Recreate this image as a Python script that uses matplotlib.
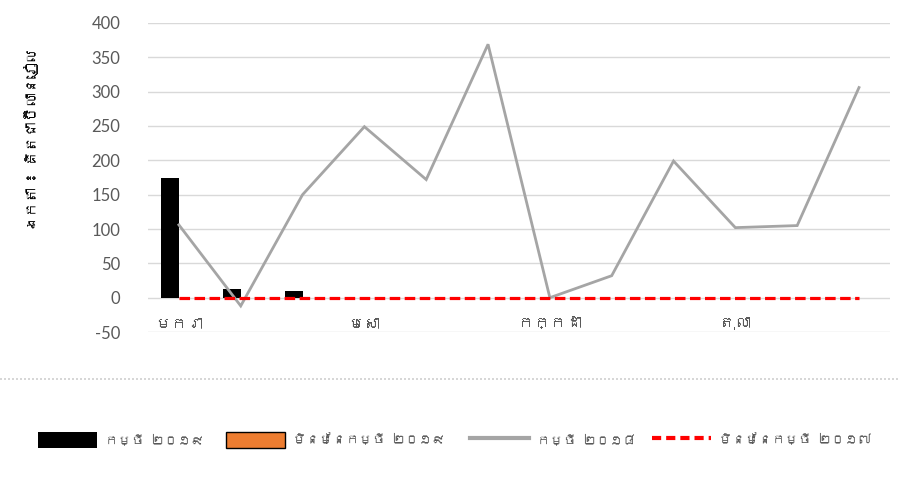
import matplotlib
matplotlib.use("Agg")
import matplotlib.pyplot as plt
from matplotlib import font_manager
from matplotlib.ft2font import FT2Font
from matplotlib.lines import Line2D
import numpy as np

# ---------------- data ----------------
months = ["មករា", "កុម្ភៈ", "មីនា", "មេសា", "ឧសភា", "មិថុនា",
          "កក្កដា", "សីហា", "កញ្ញា", "តុលា", "វិច្ឆិកា", "ធ្នូ"]
loan_2019 = [175, 13, 9, 0, 0, 0, 0, 0, 0, 0, 0, 0]
nonloan_2019 = [0, 0, 0, 0, 0, 0, 0, 0, 0, 0, 0, 0]
loan_2018 = [106, -12, 150, 249, 172, 369, 0, 32, 199, 102, 105, 306]
nonloan_2017 = [0, 0, 0, 0, 0, 0, 0, 0, 0, 0, 0, 0]
series_labels = ["កម្ចី ២០១៩", "មិនមែនកម្ចី ២០១៩", "កម្ចី ២០១៨", "មិនមែនកម្ចី ២០១៧"]
y_label = "ឯកតា ៖ គិតជាប៊ីលានរៀល"
y_ticks = [-50, 0, 50, 100, 150, 200, 250, 300, 350, 400]

# ---------------- font with Khmer glyphs if any ----------------
khmer_family = None
for fe in font_manager.fontManager.ttflist:
    try:
        cm = FT2Font(fe.fname).get_charmap()
        if 0x1780 in cm and 0x17D2 in cm:
            khmer_family = fe.name
            break
    except Exception:
        pass
fams = ([khmer_family] if khmer_family else []) + ["DejaVu Sans"]
num_fams = ["Lato", "DejaVu Sans"]
plt.rcParams["font.family"] = fams

fig = plt.figure(figsize=(8.98, 4.83), dpi=100)
ax = fig.add_axes([0.1648, 0.3126, 0.8262, 0.6398])

x = np.arange(len(months))
bw = 0.29
ax.bar(x - bw / 2, loan_2019, width=bw, color="black", zorder=3,
       label=series_labels[0])
ax.bar(x + bw / 2, nonloan_2019, width=bw, color="#ED7D31", edgecolor="black",
       linewidth=0.0, zorder=3, label=series_labels[1])
ax.plot(x, loan_2018, color="#A5A5A5", lw=2.0, zorder=4, label=series_labels[2],
        solid_joinstyle="miter")
ax.plot(x, nonloan_2017, color="#FF0000", lw=2.3, zorder=5,
        dashes=(3.3, 1.4), label=series_labels[3])

ax.set_xlim(-0.5, len(months) - 0.5)
ax.set_ylim(-50, 400)
ax.set_yticks(y_ticks)
ax.set_yticklabels([str(v) for v in y_ticks], family=num_fams, fontsize=12,
                   color="#595959")
ax.tick_params(axis="y", length=0, pad=20)
ax.yaxis.grid(True, color="#D9D9D9", lw=1.0, zorder=0)
ax.set_axisbelow(True)
for s in ["top", "right", "left"]:
    ax.spines[s].set_visible(False)
ax.spines["bottom"].set_position(("data", 0))
ax.spines["bottom"].set_visible(False)

ax.set_xticks(x[::3])
ax.set_xticklabels(months[::3], fontsize=11.5, color="#595959")
ax.tick_params(axis="x", length=0, pad=14)

fig.text(0.035, 1 - 140 / 483, y_label, rotation=90, ha="center",
         va="center", fontsize=10.5, color="black")

# separator
fig.add_artist(Line2D([0, 1], [1 - 379 / 483, 1 - 379 / 483],
                      transform=fig.transFigure, color="#D0D0D0", lw=1.2,
                      linestyle=(0, (1.2, 1.2))))

handles = [
    plt.Rectangle((0, 0), 1, 1, facecolor="black"),
    plt.Rectangle((0, 0), 1, 1, facecolor="#ED7D31", edgecolor="black", lw=1.0),
    Line2D([0], [0], color="#A5A5A5", lw=3),
    Line2D([0], [0], color="#FF0000", lw=3, dashes=(2.2, 1.2)),
]
starts_px = [38, 226, 470, 652]
for h, lab, sx in zip(handles, series_labels, starts_px):
    leg = fig.legend([h], [lab], loc="center left",
                     bbox_to_anchor=(sx / 898, 1 - 440 / 483), frameon=False,
                     fontsize=9.5, handlelength=4.5, handleheight=1.5,
                     handletextpad=0.6, borderaxespad=0, borderpad=0)
    for t in leg.get_texts():
        t.set_color("#595959")

fig.savefig("out.png", dpi=100)
